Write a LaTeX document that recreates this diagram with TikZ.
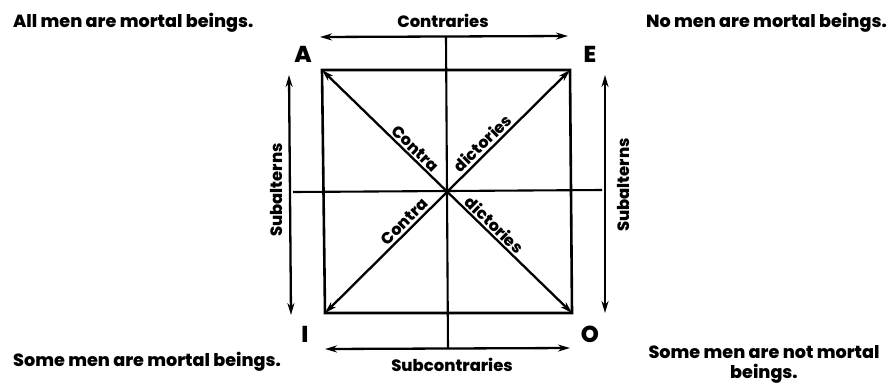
\documentclass[tikz,border=0pt]{standalone}
\usepackage{fontspec}
\setmainfont{Poppins}[BoldFont={Poppins ExtraBold}]
\usetikzlibrary{arrows.meta}
\begin{document}
\begin{tikzpicture}[x=1pt,y=-1pt,
  ln/.style={line width=2.6pt},
  ax/.style={line width=2.1pt},
  arr/.style={line width=2.3pt,{Stealth[length=12pt,width=7pt]}-{Stealth[length=12pt,width=7pt]}},
  stmt/.style={font=\fontsize{17.6}{20}\selectfont\bfseries,inner sep=0pt},
  lbl/.style={font=\fontsize{16.4}{18}\selectfont\bfseries,inner sep=0pt},
  corner/.style={font=\fontsize{23}{25}\selectfont\bfseries,inner sep=0pt},
  diag/.style={font=\fontsize{16}{18}\selectfont\bfseries,inner sep=2.5pt}]
\useasboundingbox[fill=white] (0,0) rectangle (888,389);
% corners
\coordinate (cA) at (322,70);
\coordinate (cE) at (570,70);
\coordinate (cI) at (325,313);
\coordinate (cO) at (572,313);
\coordinate (ctr) at (447,191);
% axes
\coordinate (vt) at (446,37);
\coordinate (vb) at (448,349);
\coordinate (hl) at (293,192);
\coordinate (hr) at (602,190);
\draw[ax] (vt) -- (vb);
\draw[ax] (hl) -- (hr);
% square
\draw[ln,line join=miter] (cA) -- (cE) -- (cO) -- (cI) -- cycle;
% diagonals
\draw[arr] (cA) -- (cO);
\draw[arr] (cI) -- (cE);
\path (cA) -- (ctr) node[diag,pos=0.7,sloped,above] (d1) {Contra};
\path (ctr) -- (cE) node[diag,pos=0.34,sloped,above] (d2) {dictories};
\path (cI) -- (ctr) node[diag,pos=0.7,sloped,above] (d3) {Contra};
\path (ctr) -- (cO) node[diag,pos=0.33,sloped,above] (d4) {dictories};
% outer arrows
\coordinate (tl) at (320,37);
\coordinate (tr) at (568,36);
\coordinate (bl) at (325,349);
\coordinate (br) at (570,348);
\coordinate (lt) at (289,75);
\coordinate (lb) at (291,315);
\coordinate (rt) at (605,75);
\coordinate (rb) at (605,313);
\draw[arr] (tl) -- (tr);
\draw[arr] (bl) -- (br);
\draw[arr] (lt) -- (lb);
\draw[arr] (rt) -- (rb);
% labels
\node[lbl] (contr) at (443,21) {Contraries};
\node[lbl] (subc) at (452,365) {Subcontraries};
\node[lbl,rotate=90] (subl) at (276,190) {Subalterns};
\node[lbl,rotate=90] (subr) at (623,185) {Subalterns};
\node[corner] (A) at (303,54) {A};
\node[corner] (E) at (590,54) {E};
\node[corner] (I) at (305,334) {I};
\node[corner] (O) at (590,334) {O};
% statements
\node[stmt,anchor=west] (sA) at (13,23) {All men are mortal beings.};
\node[stmt,anchor=east] (sE) at (887,23) {No men are mortal beings.};
\node[stmt,anchor=west] (sI) at (13,362) {Some men are mortal beings.};
\node[stmt,align=center] (sO) at (764,364) {Some men are not mortal\\beings.};
\end{tikzpicture}
\end{document}
